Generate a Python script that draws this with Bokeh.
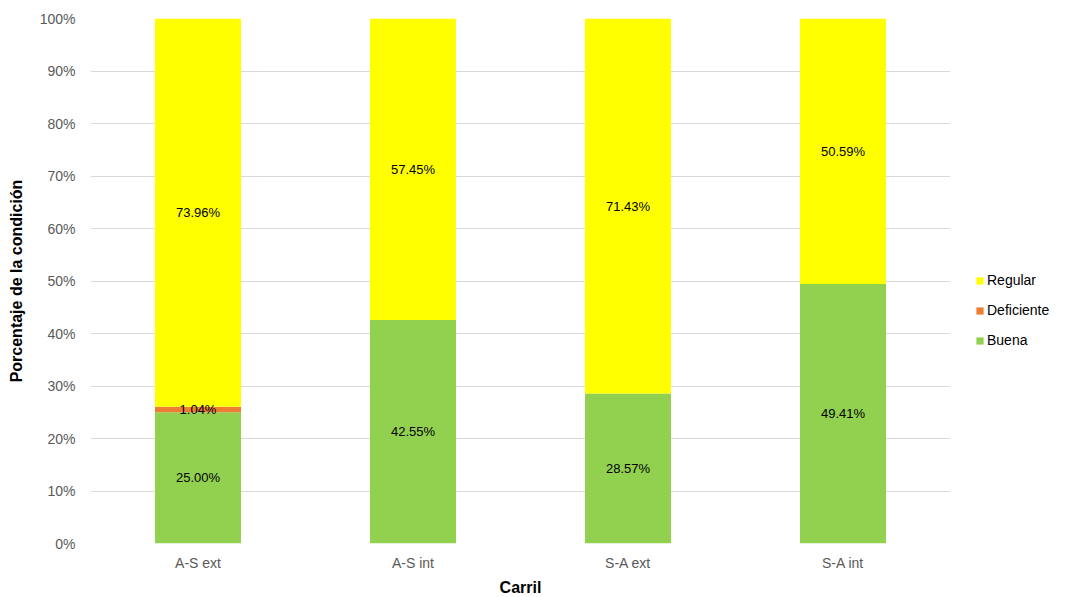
from bokeh.plotting import figure
from bokeh.models import ColumnDataSource, Legend, LegendItem, PrintfTickFormatter, FixedTicker
from bokeh.core.properties import value
from bokeh.embed import file_html
from bokeh.resources import INLINE

carriles = ["A-S ext", "A-S int", "S-A ext", "S-A int"]
buena = [25.00, 42.55, 28.57, 49.41]
deficiente = [1.04, 0.0, 0.0, 0.0]
regular = [73.96, 57.45, 71.43, 50.59]
y_ticks = list(range(0, 101, 10))

series = ["buena", "deficiente", "regular"]
nombres = {"buena": "Buena", "deficiente": "Deficiente", "regular": "Regular"}
colores = {"buena": "#92d050", "deficiente": "#ed7d31", "regular": "#ffff00"}

src = ColumnDataSource(dict(carril=carriles, buena=buena, deficiente=deficiente, regular=regular))

p = figure(x_range=carriles, y_range=(0, 100),
           frame_width=860, frame_height=525,
           min_border_left=90, min_border_right=116, min_border_top=18, min_border_bottom=54,
           output_backend="svg", toolbar_location=None)

renderers = p.vbar_stack(series, x="carril", width=0.4, source=src,
                         color=[colores[s] for s in series], line_width=0)

# value labels centered within each segment (zero segments skipped)
lx, ly, lt = [], [], []
for i, c in enumerate(carriles):
    base = 0.0
    for vals in (buena, deficiente, regular):
        v = vals[i]
        if v > 0:
            lx.append(c)
            ly.append(base + v / 2)
            lt.append(f"{v:.2f}%")
        base += v
p.text(x=lx, y=ly, text=lt, text_align="center", text_baseline="middle",
       text_font=value("Liberation Sans"), text_font_size="13px", text_color="#000000")

p.yaxis.ticker = FixedTicker(ticks=y_ticks)
p.yaxis.formatter = PrintfTickFormatter(format="%d%%")
p.yaxis.axis_label = "Porcentaje de la condición"
p.xaxis.axis_label = "Carril"
for ax in (p.xaxis, p.yaxis):
    ax.axis_line_color = None
    ax.major_tick_line_color = None
    ax.minor_tick_line_color = None
    ax.major_tick_out = 0
    ax.major_tick_in = 0
    ax.minor_tick_out = 0
    ax.major_label_text_font = "Liberation Sans"
    ax.major_label_text_font_size = "14px"
    ax.major_label_text_color = "#595959"
    ax.axis_label_text_font = "Liberation Sans"
    ax.axis_label_text_font_size = "16px"
    ax.axis_label_text_font_style = "bold"
    ax.axis_label_text_color = "#000000"
p.yaxis.major_label_standoff = 15
p.xaxis.major_label_standoff = 11
p.xaxis.axis_label_standoff = 5
p.yaxis.axis_label_standoff = 12

p.xgrid.grid_line_color = None
p.ygrid.grid_line_color = "#d9d9d9"
p.ygrid.grid_line_width = 1
p.outline_line_color = None

legend = Legend(items=[
    LegendItem(label=nombres["regular"], renderers=[renderers[2]]),
    LegendItem(label=nombres["deficiente"], renderers=[renderers[1]]),
    LegendItem(label=nombres["buena"], renderers=[renderers[0]]),
], location=(25, 193), orientation="vertical")
legend.label_text_font = "Liberation Sans"
legend.label_text_font_size = "14px"
legend.label_text_color = "#000000"
legend.glyph_width = 9
legend.glyph_height = 9
legend.label_standoff = 3
legend.spacing = 10
legend.label_height = 20
legend.padding = 0
legend.margin = 0
legend.border_line_color = None
legend.background_fill_alpha = 0
p.add_layout(legend, "right")

open("out.html", "w").write(file_html(p, INLINE))
